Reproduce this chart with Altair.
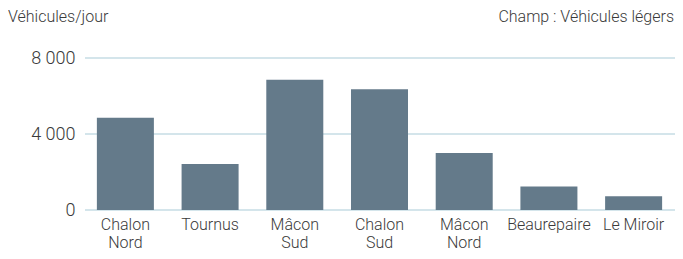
import altair as alt
import pandas as pd

categories = ["Chalon Nord", "Tournus", "Mâcon Sud", "Chalon Sud", "Mâcon Nord", "Beaurepaire", "Le Miroir"]
values = [4850, 2420, 6850, 6350, 3000, 1240, 720]
y_ticks = [0, 4000, 8000]
y_title = "Véhicules/jour"
note = "Champ : Véhicules légers"

df = pd.DataFrame({"site": categories, "v": values})

FONT = "Roboto"
TXT = "#3a3a3a"
W, H = 591, 152

bars = alt.Chart(df).mark_bar(color="#647a8a").encode(
    x=alt.X("site:N", sort=categories, title=None,
            scale=alt.Scale(paddingInner=0.327, paddingOuter=0.152),
            axis=alt.Axis(labelExpr="datum.label == 'Le Miroir' ? datum.label : split(datum.label, ' ')",
                          labelAngle=0, ticks=False, domain=False, labelPadding=6,
                          labelFontSize=16, labelFont=FONT, labelFontWeight=300,
                          labelColor=TXT, labelLineHeight=18, labelBaseline="top")),
    y=alt.Y("v:Q", title=None, scale=alt.Scale(domain=[0, 8000]),
            axis=alt.Axis(values=y_ticks, grid=False, ticks=False, domain=False,
                          labelExpr="replace(format(datum.value, ','), ',', ' ')",
                          labelPadding=9, labelFontSize=18, labelFont=FONT,
                          labelFontWeight=300, labelColor=TXT)),
)

grid_df = pd.DataFrame({"t": y_ticks})
grid = alt.Chart(grid_df).mark_rule(color="#a9ccd7", strokeWidth=1.2).encode(
    y=alt.Y("t:Q", scale=alt.Scale(domain=[0, 8000])),
    x=alt.value(1), x2=alt.value(W + 7),
)

left_title = alt.Chart(pd.DataFrame({"t": [y_title]})).mark_text(
    align="left", baseline="alphabetic", font=FONT, fontSize=16, fontWeight=300, color=TXT
).encode(text="t:N", x=alt.value(-76), y=alt.value(-36))

right_note = alt.Chart(pd.DataFrame({"t": [note]})).mark_text(
    align="right", baseline="alphabetic", font=FONT, fontSize=16, fontWeight=300, color=TXT
).encode(text="t:N", x=alt.value(W - 1), y=alt.value(-36))

chart = alt.layer(grid, bars, left_title, right_note).properties(
    width=W, height=H,
    autosize=alt.AutoSizeParams(type="none"),
    padding={"left": 76, "top": 50, "right": 0, "bottom": 41},
).configure_view(stroke=None)

chart.save("out.html", embed_options={"renderer": "svg", "actions": False})
